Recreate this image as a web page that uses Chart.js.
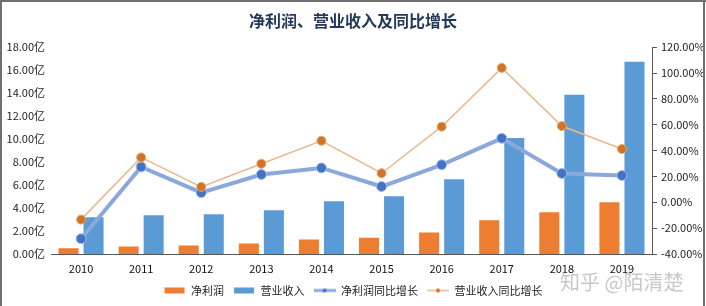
<!DOCTYPE html>
<html><head><meta charset="utf-8">
<script src="https://cdn.jsdelivr.net/npm/chart.js@4/dist/chart.umd.min.js"></script>
<style>html,body{margin:0;padding:0;background:#fff}#wrap{width:706px;height:306px;position:relative}</style>
</head><body><div id="wrap"><canvas id="c" width="706" height="306"></canvas></div>
<script>
const years = ['2010','2011','2012','2013','2014','2015','2016','2017','2018','2019'];
const netProfit = [0.50,0.66,0.74,0.92,1.27,1.42,1.88,2.93,3.63,4.50];
const revenue = [3.19,3.37,3.45,3.80,4.59,5.03,6.51,10.10,13.86,16.74];
const netProfitGrowth = [-28.2,27.4,7.5,21.5,26.6,12.2,29.0,49.5,22.3,20.7];
const revenueGrowth = [-13.4,34.7,11.9,29.8,47.6,22.5,58.5,104.0,59.0,41.2];
const seriesNames = ['净利润','营业收入','净利润同比增长','营业收入同比增长'];
const titleText = '净利润、营业收入及同比增长';
const watermark = '知乎 @陌清楚';

const FONT = '"Noto Sans CJK SC","Noto Sans",sans-serif';
const C_ORANGE = '#ED7D31', C_BLUE = '#5B9BD5';
const C_BLINE = '#8CA8DA', C_BMARK = '#4472C4';
const C_OLINE = '#E9B88C', C_OMARK = '#CF7429';

function icon(kind, color, mark){
  const c = document.createElement('canvas'); c.width = 22; c.height = 8;
  const x = c.getContext('2d');
  if(kind === 'bar'){ x.fillStyle = color; x.fillRect(1,1,20,6); }
  else {
    x.strokeStyle = color; x.lineWidth = kind==='thick'?3:1.5;
    x.beginPath(); x.moveTo(0,4); x.lineTo(22,4); x.stroke();
    x.fillStyle = mark; x.beginPath(); x.arc(11,4,2,0,Math.PI*2); x.fill();
  }
  return c;
}
const icons = [icon('bar',C_ORANGE), icon('bar',C_BLUE), icon('thick',C_BLINE,C_BMARK), icon('thin',C_OLINE,C_OMARK)];

const deco = {
  id:'deco',
  beforeDraw(chart){ const ctx=chart.ctx; ctx.save(); ctx.fillStyle='#fff'; ctx.fillRect(0,0,chart.width,chart.height); ctx.restore(); },
  afterDraw(chart){
    const ctx=chart.ctx; ctx.save();
    ctx.font = '20px '+FONT; ctx.fillStyle='rgba(190,190,190,0.85)'; ctx.textBaseline='middle'; ctx.textAlign='left';
    ctx.fillText(watermark, 560, 282);
    ctx.fillStyle='#707070';
    ctx.fillRect(0,0,706,2); ctx.fillRect(0,0,2,306); ctx.fillRect(703,0,2,306);
    ctx.restore();
  }
};

new Chart(document.getElementById('c'), {
  type:'bar',
  data:{
    labels: years,
    datasets:[
      {type:'bar', label:seriesNames[0], data:netProfit, backgroundColor:C_ORANGE, yAxisID:'y', order:3, categoryPercentage:0.833, barPercentage:0.8},
      {type:'bar', label:seriesNames[1], data:revenue, backgroundColor:C_BLUE, yAxisID:'y', order:4, categoryPercentage:0.833, barPercentage:0.8},
      {type:'line', label:seriesNames[2], data:netProfitGrowth, yAxisID:'y1', order:2, borderColor:C_BLINE, borderWidth:4, pointRadius:5, pointBackgroundColor:C_BMARK, pointBorderColor:'#A9C0EA', pointBorderWidth:1, tension:0, fill:false},
      {type:'line', label:seriesNames[3], data:revenueGrowth, yAxisID:'y1', order:1, borderColor:C_OLINE, borderWidth:1.5, pointRadius:4.5, pointBackgroundColor:C_OMARK, pointBorderColor:'#E9A86A', pointBorderWidth:1, tension:0, fill:false}
    ]
  },
  options:{
    responsive:false, animation:false, devicePixelRatio:1,
    layout:{padding:{left:0,right:0,top:0,bottom:0}},
    plugins:{
      tooltip:{enabled:false},
      title:{display:true, text:titleText, color:'#23395D', font:{family:FONT, size:16, weight:'bold'}, padding:{top:11,bottom:17}},
      legend:{position:'bottom', labels:{
        usePointStyle:true, pointStyleWidth:22, padding:9, color:'#222', font:{family:FONT,size:11},
        generateLabels(chart){ return seriesNames.map((t,i)=>({text:t, pointStyle:icons[i], fillStyle:'#fff', strokeStyle:'#fff', lineWidth:0, fontColor:'#222', datasetIndex:i, hidden:false})); }
      }}
    },
    scales:{
      x:{ grid:{display:false, drawTicks:false}, border:{display:true,color:'#595959',width:1},
          ticks:{padding:8, color:'#111', font:{family:FONT,size:11}, maxRotation:0},
          afterFit(s){ s.height = 22; } },
      y:{ position:'left', min:0, max:18, grid:{display:false, drawTicks:false}, border:{display:false},
          ticks:{stepSize:2, padding:6, color:'#222', font:{family:FONT,size:11}, callback:v=>v.toFixed(2)+'亿'},
          afterFit(s){ s.width = 51; } },
      y1:{ position:'right', min:-40, max:120, grid:{display:true, drawOnChartArea:false, drawTicks:true, tickLength:5, color:'#595959'}, border:{display:true,color:'#595959'},
          ticks:{stepSize:20, padding:4, color:'#222', font:{family:FONT,size:11}, callback:v=>v.toFixed(2)+'%'},
          afterFit(s){ s.width = 54; } }
    }
  },
  plugins:[deco]
});
</script></body></html>
